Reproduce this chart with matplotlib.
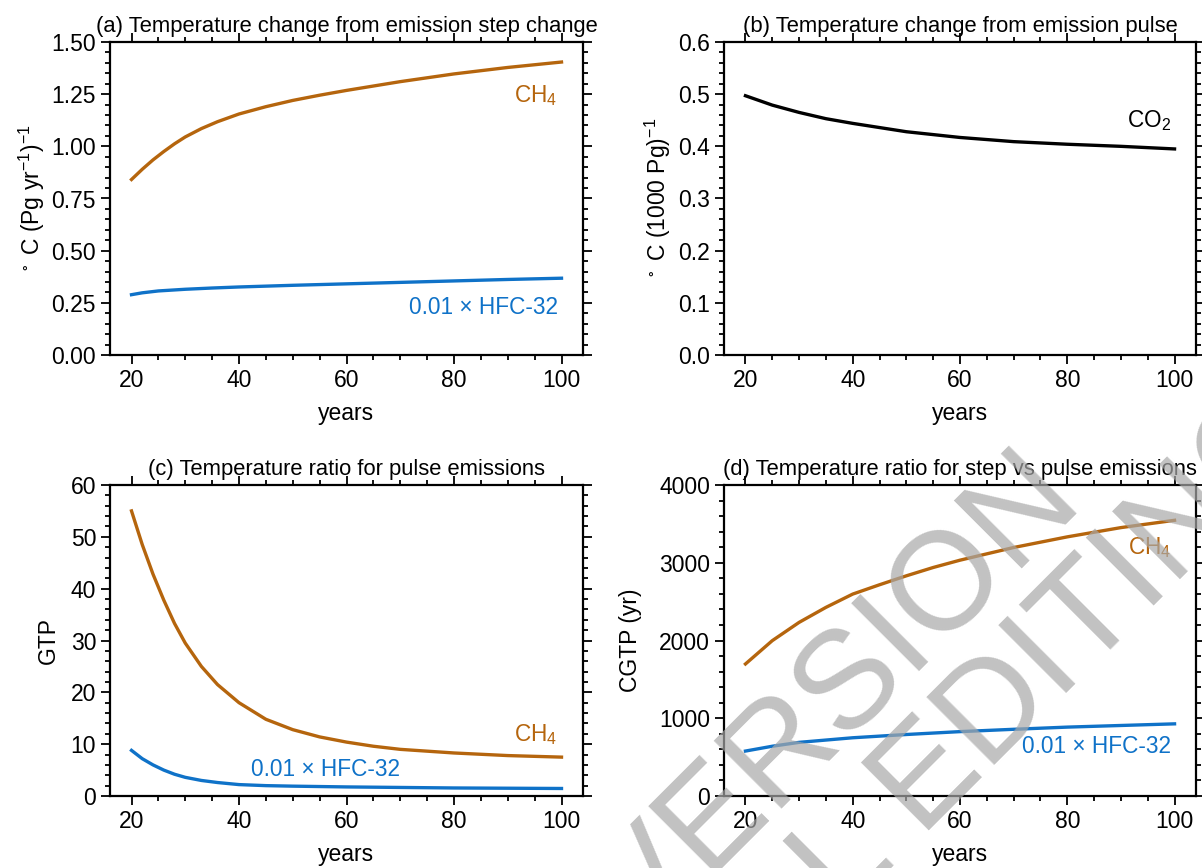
import matplotlib
matplotlib.use('Agg')
import matplotlib.pyplot as plt
from matplotlib.ticker import MultipleLocator, FormatStrFormatter

plt.rcParams['font.family'] = ['Liberation Sans', 'DejaVu Sans']
plt.rcParams['mathtext.fontset'] = 'custom'
plt.rcParams['mathtext.rm'] = 'Liberation Sans'
plt.rcParams['mathtext.it'] = 'Liberation Sans:italic'
plt.rcParams['mathtext.default'] = 'regular'

BROWN = '#b5650d'
BLUE = '#0f72c8'

# (a) temperature change from emission step change
years_a = [20, 22, 24, 26, 28, 30, 33, 36, 40, 45, 50, 55, 60, 70, 80, 90, 100]
ch4_step = [0.841, 0.89, 0.935, 0.975, 1.012, 1.045, 1.085, 1.118, 1.155, 1.19, 1.22, 1.245,
            1.268, 1.31, 1.347, 1.378, 1.404]
years_ah = [20, 22, 25, 30, 35, 40, 50, 60, 70, 80, 90, 100]
hfc_step = [0.289, 0.298, 0.307, 0.315, 0.321, 0.326, 0.334, 0.341, 0.348, 0.355, 0.362, 0.368]

# (b) temperature change from emission pulse
years_b = [20, 25, 30, 35, 40, 50, 60, 70, 80, 90, 100]
co2_pulse = [0.497, 0.479, 0.465, 0.453, 0.444, 0.428, 0.417, 0.409, 0.404, 0.400, 0.395]

# (c) GTP
years_c = [20, 22, 24, 26, 28, 30, 33, 36, 40, 45, 50, 55, 60, 65, 70, 80, 90, 100]
ch4_gtp = [55.0, 48.5, 42.8, 37.8, 33.3, 29.5, 25.0, 21.5, 18.0, 14.8, 12.8, 11.4, 10.4,
           9.6, 9.0, 8.3, 7.8, 7.5]
years_ch = [20, 22, 24, 26, 28, 30, 33, 36, 40, 45, 50, 60, 70, 80, 90, 100]
hfc_gtp = [8.8, 7.2, 6.0, 5.0, 4.2, 3.6, 3.0, 2.6, 2.2, 2.0, 1.9, 1.75, 1.65, 1.55, 1.5, 1.45]

# (d) CGTP
years_d = [20, 25, 30, 35, 40, 45, 50, 55, 60, 70, 80, 90, 100]
ch4_cgtp = [1698, 1998, 2233, 2426, 2597, 2717, 2832, 2939, 3033, 3196, 3333, 3452, 3546]
years_dh = [20, 25, 30, 40, 50, 60, 70, 80, 90, 100]
hfc_cgtp = [578, 640, 690, 749, 791, 828, 858, 886, 907, 928]

fig = plt.figure(figsize=(12.02, 8.68), dpi=100)
W, H = 1202.0, 868.0

TICK_FS = 16.5
LAB_FS = 16.5
TITLE_FS = 15.8
ANN_FS = 16.3


def make_ax(l, r, t, b):
    return fig.add_axes([l / W, 1 - b / H, (r - l) / W, (b - t) / H])


def style(ax, ymax, major, minor, fmt):
    ax.set_xlim(16, 104)
    ax.set_ylim(0, ymax)
    ax.xaxis.set_major_locator(MultipleLocator(20))
    ax.xaxis.set_minor_locator(MultipleLocator(5))
    ax.yaxis.set_major_locator(MultipleLocator(major))
    ax.yaxis.set_minor_locator(MultipleLocator(minor))
    ax.yaxis.set_major_formatter(FormatStrFormatter(fmt))
    ax.tick_params(which='both', direction='out', top=True, right=True, width=1.3)
    ax.tick_params(which='major', length=6.5, labelsize=TICK_FS)
    ax.tick_params(which='minor', length=3.5)
    for s in ax.spines.values():
        s.set_linewidth(1.6)
    ax.set_xlabel('years', fontsize=LAB_FS, labelpad=7)


ax_a = make_ax(110, 583, 42, 355)
ax_a.plot(years_a, ch4_step, color=BROWN, lw=2.4)
ax_a.plot(years_ah, hfc_step, color=BLUE, lw=2.4)
style(ax_a, 1.5, 0.25, 0.05, '%.2f')
ax_a.set_title('(a) Temperature change from emission step change', fontsize=TITLE_FS, pad=7)
ax_a.set_ylabel(r'$^\circ$ C (Pg yr$^{-1}$)$^{-1}$', fontsize=LAB_FS, labelpad=3)
ax_a.text(99.3, 1.245, 'CH$_4$', color=BROWN, fontsize=ANN_FS, ha='right', va='center')
ax_a.text(99.3, 0.23, '0.01 × HFC-32', color=BLUE, fontsize=ANN_FS, ha='right', va='center')

ax_b = make_ax(724, 1196, 42, 355)
ax_b.plot(years_b, co2_pulse, color='black', lw=2.4)
style(ax_b, 0.6, 0.1, 0.02, '%.1f')
ax_b.set_title('(b) Temperature change from emission pulse', fontsize=TITLE_FS, pad=7)
ax_b.set_ylabel(r'$^\circ$ C (1000 Pg)$^{-1}$', fontsize=LAB_FS, labelpad=4)
ax_b.text(99.3, 0.45, 'CO$_2$', color='black', fontsize=ANN_FS, ha='right', va='center')

ax_c = make_ax(110, 583, 485, 796)
ax_c.plot(years_c, ch4_gtp, color=BROWN, lw=2.4)
ax_c.plot(years_ch, hfc_gtp, color=BLUE, lw=2.4)
style(ax_c, 60, 10, 2, '%d')
ax_c.set_title('(c) Temperature ratio for pulse emissions', fontsize=TITLE_FS, pad=7)
ax_c.set_ylabel('GTP', fontsize=LAB_FS, labelpad=8)
ax_c.text(99.3, 11.8, 'CH$_4$', color=BROWN, fontsize=ANN_FS, ha='right', va='center')
ax_c.text(42.3, 5.2, '0.01 × HFC-32', color=BLUE, fontsize=ANN_FS, ha='left', va='center')

ax_d = make_ax(724, 1196, 485, 796)
ax_d.plot(years_d, ch4_cgtp, color=BROWN, lw=2.4)
ax_d.plot(years_dh, hfc_cgtp, color=BLUE, lw=2.4)
style(ax_d, 4000, 1000, 200, '%d')
ax_d.set_title('(d) Temperature ratio for step vs pulse emissions', fontsize=TITLE_FS, pad=7)
ax_d.set_ylabel('CGTP (yr)', fontsize=LAB_FS, labelpad=12)
ax_d.text(99.3, 3190, 'CH$_4$', color=BROWN, fontsize=ANN_FS, ha='right', va='center')
ax_d.text(99.3, 643, '0.01 × HFC-32', color=BLUE, fontsize=ANN_FS, ha='right', va='center')

# watermark (cut by the figure edge, as in the source)
wm = dict(fontsize=100, color='#a8a8a8', alpha=0.7, rotation=45, rotation_mode='anchor',
          va='baseline', ha='right', zorder=10)
fig.text(1085 / W, 1 - 505 / H, 'ACCEPTED VERSION', **wm)
fig.text(1320 / W, 1 - 440 / H, 'SUBJECT TO FINAL EDITING', **wm)

fig.savefig('out.png', dpi=100)
